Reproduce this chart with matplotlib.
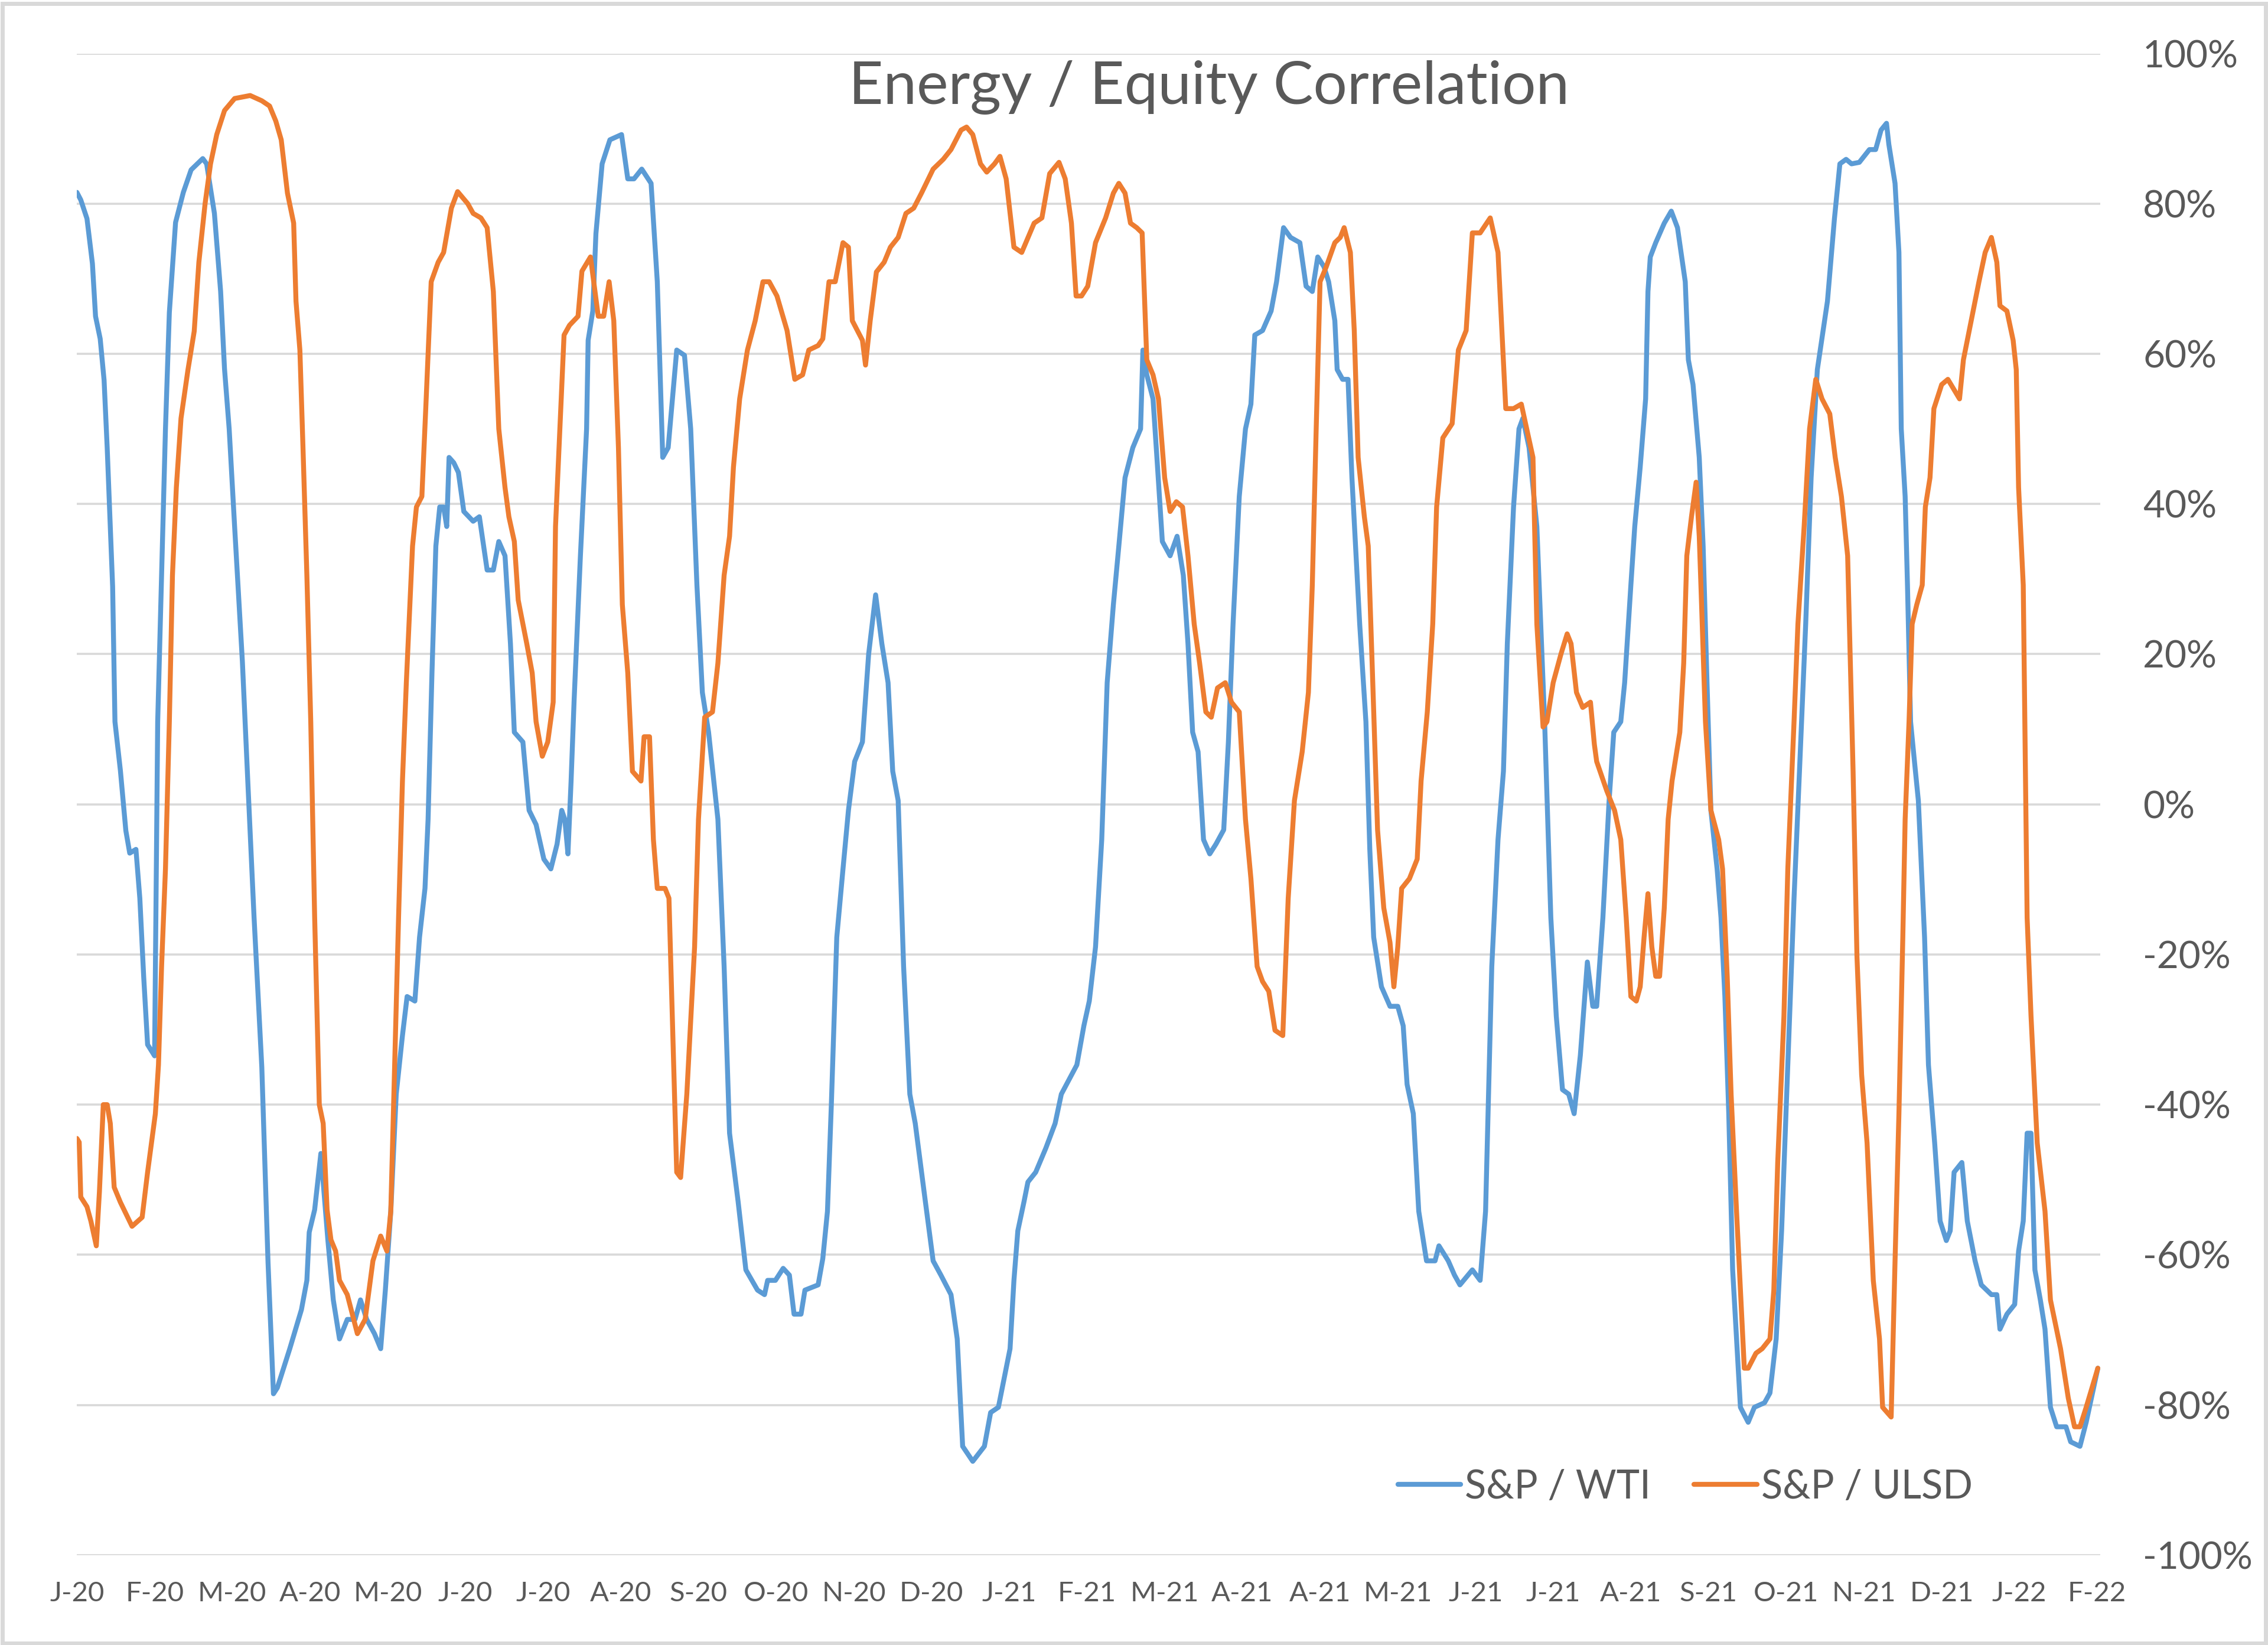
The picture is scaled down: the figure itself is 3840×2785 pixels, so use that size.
"""
Energy / Equity correlation chart (S&P vs WTI and S&P vs ULSD)
"""
import matplotlib
matplotlib.use('Agg')
import matplotlib.pyplot as plt
from matplotlib.patches import Rectangle
from matplotlib.ticker import FuncFormatter

plt.rcParams['font.family'] = ['Lato', 'DejaVu Sans']

# month labels, one per category tick (Jan-20 .. Feb-22)
month_labels = ['J-20', 'F-20', 'M-20', 'A-20', 'M-20', 'J-20', 'J-20', 'A-20', 'S-20',
                'O-20', 'N-20', 'D-20', 'J-21', 'F-21', 'M-21', 'A-21', 'A-21', 'M-21',
                'J-21', 'J-21', 'A-21', 'S-21', 'O-21', 'N-21', 'D-21', 'J-22', 'F-22']

# S&P / WTI rolling correlation (%), x in months since start of Jan-20
wti_month = [0.00, 0.05, 0.13, 0.20, 0.24, 0.30, 0.35, 0.39, 0.46, 0.49, 0.56, 0.63, 0.68, 0.76,
             0.81, 0.86, 0.91, 1.00, 1.04, 1.09, 1.14, 1.19, 1.27, 1.37, 1.47, 1.62, 1.67, 1.77,
             1.85, 1.90, 1.96, 2.03, 2.13, 2.20, 2.28, 2.38, 2.46, 2.53, 2.58, 2.74, 2.89, 2.96,
             2.99, 3.06, 3.14, 3.23, 3.30, 3.38, 3.48, 3.58, 3.65, 3.73, 3.83, 3.91, 3.97, 4.04,
             4.11, 4.19, 4.25, 4.35, 4.41, 4.48, 4.52, 4.57, 4.62, 4.67, 4.72, 4.76, 4.79, 4.85,
             4.91, 4.98, 5.10, 5.18, 5.28, 5.36, 5.43, 5.51, 5.58, 5.63, 5.74, 5.82, 5.91, 6.01,
             6.10, 6.18, 6.24, 6.28, 6.32, 6.36, 6.40, 6.48, 6.56, 6.58, 6.64, 6.68, 6.76, 6.86,
             7.01, 7.09, 7.17, 7.27, 7.39, 7.47, 7.54, 7.61, 7.72, 7.82, 7.90, 7.98, 8.05, 8.13,
             8.25, 8.33, 8.40, 8.51, 8.61, 8.76, 8.85, 8.89, 8.99, 9.09, 9.17, 9.23, 9.32, 9.37,
             9.54, 9.60, 9.66, 9.71, 9.78, 9.86, 9.93, 10.01, 10.11, 10.19, 10.28, 10.36, 10.44,
             10.50, 10.57, 10.64, 10.72, 10.79, 10.92, 11.02, 11.12, 11.25, 11.33, 11.40, 11.53,
             11.68, 11.76, 11.86, 12.01, 12.06, 12.11, 12.19, 12.24, 12.34, 12.47, 12.59, 12.67,
             12.87, 12.96, 13.03, 13.11, 13.19, 13.26, 13.34, 13.41, 13.49, 13.59, 13.69, 13.72,
             13.77, 13.85, 13.90, 13.97, 14.07, 14.16, 14.24, 14.30, 14.36, 14.43, 14.50, 14.58,
             14.66, 14.76, 14.82, 14.88, 14.96, 15.04, 15.11, 15.16, 15.26, 15.37, 15.44, 15.53,
             15.62, 15.74, 15.82, 15.90, 15.97, 16.05, 16.11, 16.19, 16.22, 16.29, 16.36, 16.41,
             16.51, 16.59, 16.64, 16.69, 16.79, 16.90, 17.00, 17.07, 17.12, 17.20, 17.27, 17.37,
             17.48, 17.53, 17.65, 17.73, 17.80, 17.96, 18.06, 18.13, 18.21, 18.29, 18.36, 18.41,
             18.49, 18.56, 18.61, 18.69, 18.79, 18.89, 18.97, 19.04, 19.12, 19.20, 19.27, 19.35,
             19.44, 19.51, 19.56, 19.64, 19.72, 19.78, 19.87, 19.92, 20.00, 20.05, 20.12, 20.19,
             20.22, 20.25, 20.32, 20.43, 20.52, 20.60, 20.70, 20.74, 20.80, 20.88, 20.93, 20.98,
             21.03, 21.11, 21.16, 21.21, 21.26, 21.31, 21.36, 21.41, 21.51, 21.59, 21.72, 21.79,
             21.87, 21.94, 22.02, 22.10, 22.17, 22.25, 22.32, 22.40, 22.53, 22.62, 22.69, 22.77,
             22.84, 22.94, 23.07, 23.15, 23.22, 23.29, 23.32, 23.40, 23.45, 23.48, 23.53, 23.56,
             23.60, 23.65, 23.70, 23.78, 23.83, 23.91, 23.98, 24.06, 24.11, 24.16, 24.26, 24.33,
             24.43, 24.51, 24.64, 24.71, 24.75, 24.84, 24.94, 24.99, 25.05, 25.10, 25.15, 25.20,
             25.27, 25.33, 25.40, 25.48, 25.60, 25.66, 25.78, 25.86, 26.01]
wti_corr = [81.5, 80.5, 78, 72, 65, 62, 56.5, 47.5, 29, 11, 4.5, -3.5, -6.5, -6,
            -12.5, -23, -32, -33.5, 11, 30.5, 50, 65.5, 77.5, 81.5, 84.5, 86, 85.3, 78.7,
            68.3, 58, 50, 37, 19, 3, -15, -35, -61, -78.5, -77.7, -72.5, -67.3, -63.4,
            -57, -54, -46.5, -58, -66, -71.2, -68.6, -68.6, -66, -68.6, -70.5, -72.5, -64.7, -54.2,
            -38.6, -30.8, -25.6, -26.2, -17.7, -11.2, -2, 17.5, 34.4, 39.6, 39.6, 37, 46.2, 45.5,
            44.2, 39, 37.7, 38.3, 31.2, 31.2, 35, 33.1, 21.4, 9.6, 8.3, -0.8, -2.7, -7.3,
            -8.6, -5.3, -0.8, -2, -6.6, 3, 14, 33, 50, 61.8, 65.7, 76, 85.3, 88.5,
            89.2, 83.3, 83.3, 84.6, 82.7, 69.6, 46.2, 47.5, 60.5, 59.8, 50, 29.2, 14.9, 9.6,
            -2, -21.6, -43.8, -52.9, -62, -64.7, -65.3, -63.4, -63.4, -61.8, -62.7, -67.9, -67.9, -64.7,
            -64, -60.5, -54.2, -40, -17.7, -8.6, -0.8, 5.7, 8.3, 20, 27.9, 21.4, 16.2,
            4.4, 0.5, -21.6, -38.6, -42.5, -52.9, -60.8, -62.7, -65.3, -71.2, -85.5, -87.5,
            -85.5, -81, -80.3, -72.5, -63.4, -56.8, -52.9, -50.3, -49, -45.8, -42.5, -38.6,
            -34.7, -29.5, -26.2, -19, -4.7, 16.2, 26.6, 34.4, 43.5, 47.5, 50, 60.5,
            57.2, 54, 46.2, 35, 33.1, 35.7, 30.5, 21.4, 9.6, 7, -4.7, -6.6,
            -5.3, -3.4, 8.3, 24, 41, 50, 53.3, 62.5, 63.1, 65.7, 69.6, 76.8,
            75.5, 74.8, 69, 68.3, 72.9, 71.6, 69.6, 64.4, 57.9, 56.6, 56.6, 43.5,
            24, 11, -6, -17.7, -24.3, -26.9, -26.9, -29.5, -37.3, -41.2, -54.2, -60.8,
            -60.8, -58.8, -60.8, -62.7, -64, -62, -63.4, -54.2, -21.6, -4.7, 4.4, 21.4,
            39.6, 50, 51.4, 47.5, 37, 11, -15.1, -28.2, -38, -38.6, -41.2, -33.4,
            -21, -26.9, -26.9, -15.1, 0.5, 9.6, 11, 16.2, 29.2, 37, 44.9, 54,
            68.3, 72.9, 74.8, 77.4, 79, 76.8, 69.6, 59.2, 55.9, 46.2, 34.4, 16.2,
            -0.8, -8.6, -15.1, -25.6, -41.2, -62, -71.2, -80.3, -82.3, -80.3, -79.7, -78.4,
            -71.2, -56.8, -34.7, -12.5, 4.4, 24, 43.5, 57.9, 67, 78, 85.3, 85.9,
            85.3, 85.5, 87.2, 87.2, 89.8, 90.7, 87.9, 82.7, 73.5, 50, 41, 29.2,
            11, 5.7, 0.5, -17.7, -34.7, -45.1, -55.5, -58.1, -56.8, -49, -47.7, -55.5,
            -60.8, -64, -65.3, -65.3, -69.9, -67.9, -66.6, -59.5, -55.5, -43.8, -43.8, -62,
            -66, -69.9, -80.3, -82.9, -82.9, -84.9, -85.5, -82.3, -75.1]

# S&P / ULSD rolling correlation (%)
ulsd_month = [0.00, 0.03, 0.05, 0.13, 0.18, 0.25, 0.29, 0.34, 0.39, 0.43, 0.48, 0.56, 0.71, 0.84,
              0.91, 1.01, 1.05, 1.09, 1.14, 1.19, 1.23, 1.28, 1.34, 1.43, 1.51, 1.57, 1.65, 1.72,
              1.80, 1.90, 2.03, 2.23, 2.38, 2.48, 2.56, 2.63, 2.71, 2.79, 2.82, 2.87, 2.91, 2.96,
              3.01, 3.06, 3.12, 3.17, 3.22, 3.27, 3.33, 3.38, 3.48, 3.61, 3.71, 3.81, 3.91, 3.99,
              4.04, 4.09, 4.14, 4.19, 4.24, 4.32, 4.37, 4.44, 4.49, 4.56, 4.65, 4.72, 4.82, 4.90,
              5.03, 5.10, 5.20, 5.28, 5.36, 5.43, 5.51, 5.56, 5.63, 5.68, 5.79, 5.86, 5.91, 5.99,
              6.06, 6.13, 6.16, 6.27, 6.34, 6.45, 6.50, 6.61, 6.71, 6.78, 6.85, 6.91, 6.97, 7.02,
              7.09, 7.15, 7.26, 7.30, 7.37, 7.42, 7.47, 7.57, 7.62, 7.67, 7.72, 7.77, 7.85, 7.95,
              8.00, 8.08, 8.18, 8.25, 8.33, 8.40, 8.45, 8.53, 8.63, 8.73, 8.83, 8.91, 9.01, 9.14,
              9.24, 9.34, 9.42, 9.54, 9.60, 9.68, 9.76, 9.86, 9.93, 9.98, 10.11, 10.15, 10.21,
              10.29, 10.39, 10.47, 10.57, 10.67, 10.77, 10.87, 11.02, 11.15, 11.25, 11.38, 11.45,
              11.53, 11.63, 11.71, 11.81, 11.88, 11.96, 12.06, 12.16, 12.32, 12.42, 12.52, 12.64,
              12.72, 12.80, 12.86, 12.93, 13.01, 13.11, 13.24, 13.34, 13.41, 13.49, 13.56, 13.64,
              13.71, 13.77, 13.85, 13.92, 14.00, 14.07, 14.15, 14.23, 14.30, 14.38, 14.45, 14.53,
              14.60, 14.68, 14.78, 14.86, 14.96, 15.04, 15.11, 15.19, 15.26, 15.34, 15.42, 15.52,
              15.59, 15.67, 15.77, 15.85, 15.90, 15.95, 16.00, 16.08, 16.19, 16.26, 16.31, 16.39,
              16.44, 16.49, 16.57, 16.62, 16.67, 16.74, 16.82, 16.90, 16.95, 17.00, 17.05, 17.15,
              17.25, 17.30, 17.38, 17.45, 17.50, 17.58, 17.70, 17.78, 17.88, 17.96, 18.06, 18.19,
              18.29, 18.39, 18.49, 18.59, 18.66, 18.74, 18.79, 18.87, 18.92, 19.00, 19.10, 19.18,
              19.23, 19.30, 19.38, 19.48, 19.53, 19.56, 19.69, 19.79, 19.87, 19.94, 20.00, 20.07,
              20.12, 20.17, 20.22, 20.27, 20.32, 20.37, 20.43, 20.48, 20.53, 20.63, 20.68, 20.72,
              20.78, 20.84, 20.88, 20.91, 20.96, 21.03, 21.13, 21.18, 21.24, 21.29, 21.36, 21.46,
              21.51, 21.61, 21.69, 21.79, 21.84, 21.89, 21.97, 22.02, 22.10, 22.15, 22.23, 22.30,
              22.38, 22.46, 22.56, 22.63, 22.71, 22.79, 22.86, 22.91, 22.97, 23.04, 23.12, 23.20,
              23.24, 23.35, 23.40, 23.45, 23.50, 23.53, 23.58, 23.62, 23.68, 23.75, 23.79, 23.85,
              23.90, 24.00, 24.08, 24.23, 24.28, 24.38, 24.48, 24.56, 24.64, 24.71, 24.75, 24.84,
              24.92, 24.96, 24.99, 25.05, 25.10, 25.15, 25.23, 25.33, 25.40, 25.53, 25.63, 25.71,
              25.78, 25.86, 26.01]
ulsd_corr = [-44.5, -45, -52.3, -53.6, -55.5, -58.8, -51.6, -40, -40, -42.5, -51, -53, -56.2, -55,
             -49, -41.2, -34.7, -21.6, -8.6, 11, 30.5, 42.2, 51.4, 57.9, 63, 72.2, 80, 85.3,
             89.2, 92.4, 94, 94.4, 93.7, 93, 91, 88.5, 81.4, 77.4, 67, 60.5, 47.5, 30.5,
             11, -15, -40, -42.5, -54, -58, -59.5, -63.4, -65.3, -70.5, -68.6, -60.8, -57.5, -59.5,
             -54.2, -34.7, -15.1, 3.1, 16.2, 34.4, 39.6, 41, 52.7, 69.6, 72.2, 73.5, 79.4, 81.6,
             80, 78.7, 78.1, 76.8, 68.3, 50, 42.2, 38.3, 35, 27.2, 21.4, 17.5, 11, 6.4,
             8.3, 13.6, 37, 62.5, 63.8, 65, 71, 72.9, 65, 65, 69.6, 64.4, 47.5, 26.6,
             17.5, 4.4, 3.1, 9, 9, -4.7, -11.2, -11.2, -12.5, -30.8, -49, -49.7, -38.6, -19,
             -2, 11.6, 12.3, 18.8, 30.5, 35.7, 44.9, 54, 60.5, 64.4, 69.6, 69.6, 67.7, 63.1,
             56.6, 57.2, 60.5, 61.1, 62, 69.6, 69.6, 74.8, 74.2, 64.4, 61.8, 58.5, 64.4,
             70.9, 72.2, 74.2, 75.5, 78.7, 79.4, 81.4, 84.6, 85.9, 87.2, 89.8, 90.2,
             89.2, 85.3, 84.2, 85.3, 86.3, 83.3, 74.2, 73.5, 77.4, 78.1, 84, 85.5,
             83.3, 77.4, 67.7, 67.7, 69, 74.8, 78.1, 81.4, 82.7, 81.4, 77.4, 76.8,
             76.1, 59.2, 57.2, 54, 43.5, 39, 40.3, 39.6, 33.1, 24, 18.8, 12.3,
             11.6, 15.5, 16.2, 13.6, 12.3, -2, -9.9, -21.6, -23.6, -24.9, -30.1, -30.8,
             -12.5, 0.5, 7, 14.9, 29.2, 50, 69.6, 71.6, 74.8, 75.5, 76.8, 73.5,
             63.1, 46.2, 38.3, 34.4, 18.8, -3.4, -13.8, -18.4, -24.3, -19, -11.2, -9.9,
             -7.3, 3.1, 12.3, 24, 39.6, 48.8, 50.7, 60.5, 63.1, 76.1, 76.1, 78.1,
             73.5, 52.7, 52.7, 53.3, 50, 46.2, 24, 10.3, 11, 16.2, 20, 22.7,
             21.4, 14.9, 12.9, 13.6, 8, 5.7, 1.8, -0.8, -4.7, -15.1, -25.6, -26.2,
             -24.3, -17.7, -11.9, -19, -22.9, -22.9, -13.8, -2, 3.1, 9.6, 18.8, 33.1,
             38.3, 42.9, 35.7, 26.6, 11, -0.8, -4.7, -8.6, -22.9, -38.6, -54.2, -75.1,
             -75.1, -73.1, -72.5, -71.2, -64.7, -47.7, -28.2, -8.6, 11, 24, 37, 50,
             56.6, 54, 52, 46.2, 41, 33.1, 4.4, -20.3, -36, -45.1, -63.4, -71.2,
             -80.3, -81.6, -60.8, -41.2, -17.7, -2, 11, 24, 26.6, 29.2, 39.6, 43.5,
             52.7, 55.9, 56.6, 54, 59.2, 64.4, 69.6, 73.5, 75.5, 72.2, 66.4, 65.7,
             61.8, 57.9, 42.2, 29.2, -15.1, -28.2, -45.1, -54.2, -66, -72.5, -79.1, -82.9,
             -82.9, -80.3, -75.1]

text_color = '#595959'
grid_color = '#D9D9D9'

fig = plt.figure(figsize=(19.2, 13.925), dpi=200)
ax = fig.add_axes([0.0339, 0.0546, 0.8921, 0.9129])

ax.plot(wti_month, wti_corr, color='#5B9BD5', linewidth=3.0,
        solid_joinstyle='round', solid_capstyle='round', label='S&P / WTI', zorder=3)
ax.plot(ulsd_month, ulsd_corr, color='#ED7D31', linewidth=3.0,
        solid_joinstyle='round', solid_capstyle='round', label='S&P / ULSD', zorder=4)

ax.set_xlim(0, 26.04)
ax.set_ylim(-100, 100)
ax.set_yticks(range(-100, 101, 20))
ax.yaxis.set_major_formatter(FuncFormatter(lambda v, p: f'{int(round(v))}%'))
ax.yaxis.tick_right()
ax.set_xticks(range(len(month_labels)))
ax.set_xticklabels(month_labels)

ax.tick_params(axis='y', length=0, pad=26, labelsize=23, labelcolor=text_color)
ax.tick_params(axis='x', length=0, pad=16, labelsize=17, labelcolor=text_color)
ax.grid(True, axis='y', color=grid_color, linewidth=1.3)
ax.set_axisbelow(True)
for s in ax.spines.values():
    s.set_visible(False)

fig.text(0.533, 0.947, 'Energy / Equity Correlation', ha='center', va='center',
         fontsize=36.5, color=text_color)

ax.legend(loc='center', bbox_to_anchor=(0.743, 0.096), bbox_transform=fig.transFigure,
          ncol=2, frameon=False, fontsize=24, labelcolor=text_color,
          handlelength=1.6, handletextpad=0.1, columnspacing=1.1)

# light frame around the chart area
fig.patches.append(Rectangle((0.001, 0.001), 0.998, 0.997, transform=fig.transFigure,
                             fill=False, edgecolor=grid_color, linewidth=2.5))

fig.savefig('out.png', dpi=200)
print("Saved out.png")
